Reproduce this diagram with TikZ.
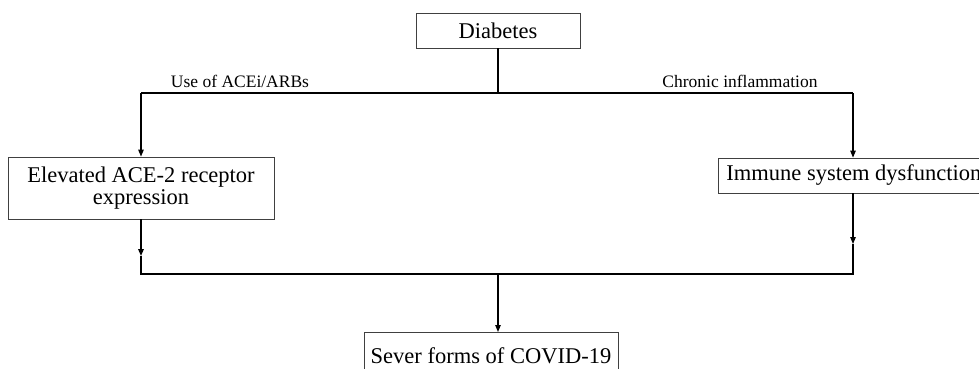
\documentclass[tikz,border=0pt]{standalone}
\usepackage{fontspec}
\setmainfont{Liberation Serif}
\usetikzlibrary{arrows.meta}
\begin{document}
\begin{tikzpicture}[x=1pt,y=-1pt,
  box/.style={draw=black!75,line width=0.8pt,inner sep=0pt,font=\fontsize{22.5}{22}\selectfont},
  conn/.style={line width=1.1pt},
  arr/.style={conn,-{Triangle[length=7pt,width=5.5pt]}},
  lab/.style={font=\fontsize{17.5}{18}\selectfont,anchor=base,inner sep=0pt}]
\useasboundingbox (0,0) rectangle (979,369);
\clip (0,0) rectangle (979,369);
\fill[white] (0,0) rectangle (979,369);
\node[box,minimum width=164pt,minimum height=35pt] (diab) at (498,30.5) {Diabetes};
\node[box,minimum width=266pt,minimum height=62pt,align=center] (elev) at (141,188) {Elevated ACE-2 receptor\\expression};
\node[box,anchor=west,minimum height=35pt,inner xsep=8pt] (imm) at (718,175.5) {Immune system dysfunction};
\node[box,anchor=north,minimum width=254pt,minimum height=47pt] (sev) at (491,332) {Sever forms of COVID-19};
\node[lab] (l1) at (240,87) {Use of ACEi/ARBs};
\node[lab] (l2) at (740,87) {Chronic inflammation};
\coordinate (tj) at (498,93);
\coordinate (tl) at (141,93);
\coordinate (tr) at (853,93);
\coordinate (bl) at (141,274);
\coordinate (br) at (853,274);
\coordinate (bj) at (498,274);
\coordinate (al) at (141,256);
\coordinate (ar) at (853,244);
\draw[conn] (diab) -- (tj);
\draw[conn] (tl) -- (tr);
\draw[arr] (tl) -- (elev);
\draw[arr] (tr) -- (tr |- imm.north);
\draw[arr,line width=1.5pt] (elev.south -| al) -- (al);
\draw[conn] (al) -- (bl) -- (br) -- (ar);
\draw[arr] (imm.south -| ar) -- (ar);
\draw[arr] (bj) -- (bj |- sev.north);
\end{tikzpicture}
\end{document}
